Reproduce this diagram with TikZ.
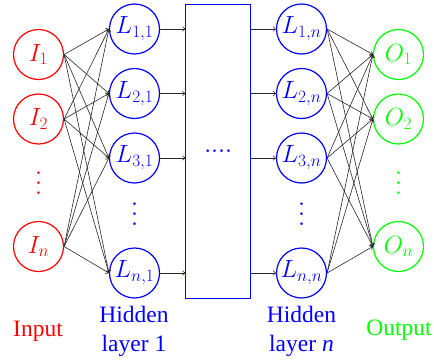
\documentclass[tikz,border=0pt]{standalone}
\usepackage{fontspec}
\setmainfont{Liberation Serif}
\usepackage{graphicx}
\usetikzlibrary{arrows.meta}
\newcommand{\myvdots}{\scalebox{2.5}{\vbox{\baselineskip4pt\lineskiplimit0pt\hbox{$.$}\hbox{$.$}\hbox{$.$}}}}
\begin{document}
\begin{tikzpicture}[x=1pt,y=-1pt,
  neuron/.style={circle,draw,line width=1.2pt,minimum size=50pt,inner sep=0pt,font=\fontsize{23}{26}\selectfont},
  inp/.style={neuron,red},
  hid/.style={neuron,blue},
  outp/.style={neuron,green},
  dotsnode/.style={inner sep=0pt},
  conn/.style={-{To[length=3pt,width=5pt]},line width=0.6pt,black!85},
  lbl/.style={font=\fontsize{23.5}{29}\selectfont,align=center,anchor=base}
]
\useasboundingbox (0,0) rectangle (434,362);
% input layer
\node[inp] (I1) at (38.5,54.5) {$I_1$};
\node[inp] (I2) at (38.5,119) {$I_2$};
\node[inp] (In) at (38.5,246.5) {$I_n$};
\node[dotsnode,red] (Id) at (38.5,183) {\myvdots};
% hidden layer 1
\node[hid] (L11) at (134.5,29) {$L_{1,1}$};
\node[hid] (L21) at (134.5,93.5) {$L_{2,1}$};
\node[hid] (L31) at (134.5,158) {$L_{3,1}$};
\node[hid] (Ln1) at (134.5,273) {$L_{n,1}$};
\node[dotsnode,blue] (L1d) at (134.5,214) {\myvdots};
% middle box
\node[draw=blue,line width=1pt,minimum width=65pt,minimum height=294pt,inner sep=0pt,text=blue] (box) at (218.2,151) {\scalebox{2.5}{$....$}};
% hidden layer n
\node[hid] (L1n) at (301.5,29) {$L_{1,n}$};
\node[hid] (L2n) at (301.5,93.5) {$L_{2,n}$};
\node[hid] (L3n) at (301.5,158) {$L_{3,n}$};
\node[hid] (Lnn) at (301.5,273) {$L_{n,n}$};
\node[dotsnode,blue] (Lnd) at (301.5,214) {\myvdots};
% output layer
\node[outp] (O1) at (398.5,54.5) {$O_1$};
\node[outp] (O2) at (398.5,119) {$O_2$};
\node[outp] (On) at (398.5,246.5) {$O_n$};
\node[dotsnode,green] (Od) at (398.5,183) {\myvdots};
% connections
\foreach \i in {I1,I2,In}
  \foreach \j in {L11,L21,L31,Ln1}
    \draw[conn] (\i.east) -- (\j.west);
\foreach \j in {L1n,L2n,L3n,Lnn}
  \foreach \k in {O1,O2,On}
    \draw[conn] (\j.east) -- (\k.west);
\foreach \j in {L11,L21,L31,Ln1}
  \draw[conn] (\j.east) -- (\j.east -| box.west);
\foreach \j in {L1n,L2n,L3n,Lnn}
  \draw[conn] (\j.west -| box.east) -- (\j.west);
% labels
\node[lbl,red] (tin) at (38,336.7) {Input};
\node[lbl,blue] (th1) at (134,351.7) {Hidden\\layer 1};
\node[lbl,blue] (thn) at (301.5,351.7) {Hidden\\layer \textit{n}};
\node[lbl,green] (tout) at (399,335.7) {Output};
\end{tikzpicture}
\end{document}
